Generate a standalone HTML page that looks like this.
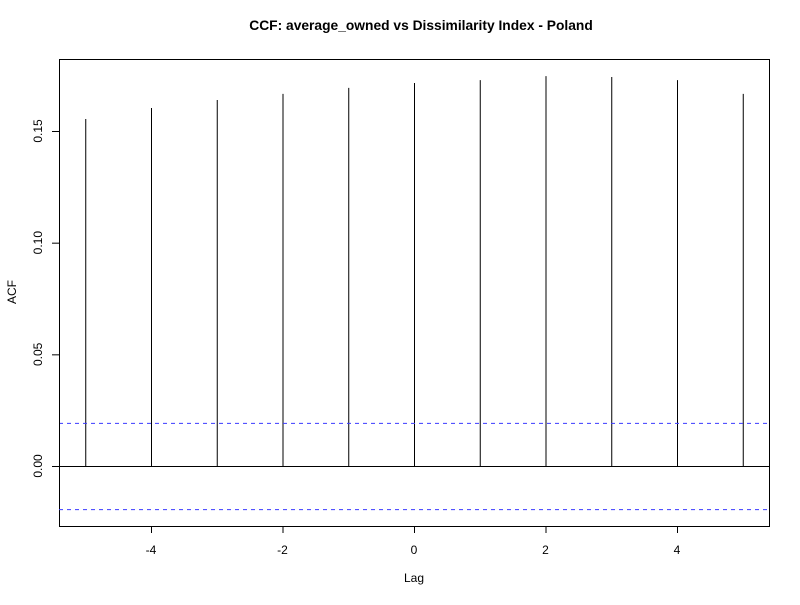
<!DOCTYPE html>
<html><head><meta charset="utf-8"><style>
body{margin:0;background:#fff;}
svg text{font-family:"Liberation Sans",Arial,sans-serif;}
</style></head><body>
<svg id="chart" width="800" height="600" xmlns="http://www.w3.org/2000/svg">
<rect width="800" height="600" fill="#fff"/>
<text x="421" y="30" text-anchor="middle" font-size="13.8" font-weight="bold">CCF: average_owned vs Dissimilarity Index - Poland</text>
<text x="414" y="582" text-anchor="middle" font-size="12">Lag</text>
<text transform="translate(16,292) rotate(-90)" text-anchor="middle" font-size="12">ACF</text>
<rect x="59.5" y="59.5" width="710" height="467" fill="none" stroke="#000" stroke-width="1"/>
<g id="marks"></g>
</svg>
<script>
const lags=[-5,-4,-3,-2,-1,0,1,2,3,4,5];
const acfValues=[0.1554,0.1603,0.1639,0.1666,0.1693,0.1715,0.1728,0.1746,0.1742,0.1728,0.1666];
const ciLimit=0.0193;
const xTicks=[-4,-2,0,2,4];
const yTicks=[0,0.05,0.10,0.15];
const yTickLabels=["0.00","0.05","0.10","0.15"];

const xs=l=>414+l*65.75;
const ys=v=>466-v*2233.3;
const NS="http://www.w3.org/2000/svg";
const g=document.getElementById('marks');
function mk(tag,attrs){const e=document.createElementNS(NS,tag);for(const k in attrs)e.setAttribute(k,attrs[k]);g.appendChild(e);return e;}

acfValues.forEach((v,i)=>{
 const e=mk('line',{x1:xs(lags[i])+0.5,x2:xs(lags[i])+0.5,y1:ys(0),y2:ys(v),stroke:'#000','stroke-width':1});
 
 
});
let z=mk('line',{x1:59,x2:769,y1:ys(0)+0.5,y2:ys(0)+0.5,stroke:'#000','stroke-width':1});


[ciLimit,-ciLimit].forEach((c,i)=>{
 const e=mk('line',{x1:59,x2:769,y1:ys(c)+0.5,y2:ys(c)+0.5,stroke:'#3b3bff','stroke-width':1,'stroke-dasharray':'4,4'});
 
 
});
let xa=mk('line',{x1:xs(xTicks[0]),x2:xs(xTicks[xTicks.length-1]),y1:526.5,y2:526.5,stroke:'#000'});


xTicks.forEach(t=>{
 const l=mk('line',{x1:xs(t)+0.5,x2:xs(t)+0.5,y1:526,y2:533,stroke:'#000'});
 
 
 const tx=mk('text',{x:xs(t),y:554,'text-anchor':'middle','font-size':12});
 tx.textContent=String(t);
 
 
});
let ya=mk('line',{x1:59.5,x2:59.5,y1:ys(yTicks[0]),y2:ys(yTicks[yTicks.length-1]),stroke:'#000'});


yTicks.forEach((t,i)=>{
 const l=mk('line',{x1:52,x2:59,y1:ys(t)+0.5,y2:ys(t)+0.5,stroke:'#000'});
 
 
 const tx=mk('text',{x:0,y:0,'text-anchor':'middle','font-size':12,transform:`translate(42,${ys(t)}) rotate(-90)`});
 tx.textContent=yTickLabels[i];
 
 
});
</script>
</body></html>
